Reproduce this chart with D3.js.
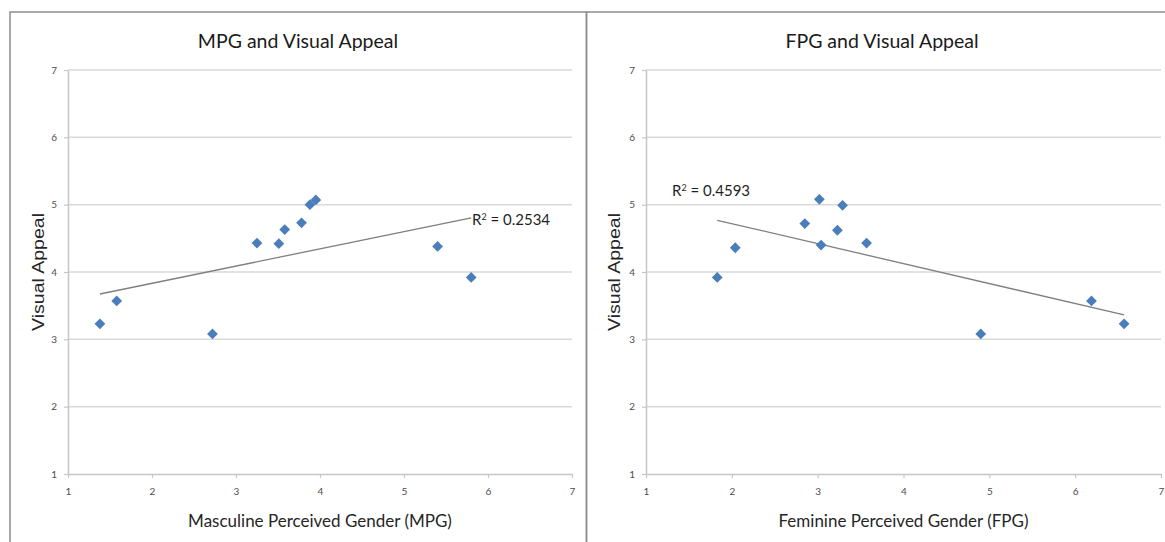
<!DOCTYPE html>
<html>
<head>
<meta charset="utf-8">
<script src="https://cdn.jsdelivr.net/npm/d3@7"></script>
<style>
  html, body { margin: 0; padding: 0; background: #fff; }
  svg { display: block; }
</style>
</head>
<body>
<svg id="chart" width="1165" height="542"></svg>
<script>
// ---- data ----
const axisTicks = [1, 2, 3, 4, 5, 6, 7];

const mpgX = [1.38, 1.58, 2.72, 3.25, 3.51, 3.58, 3.78, 3.88, 3.95, 5.40, 5.80];
const mpgY = [3.23, 3.57, 3.08, 4.43, 4.42, 4.63, 4.73, 5.00, 5.07, 4.38, 3.92];

const fpgX = [1.83, 2.04, 2.85, 3.02, 3.04, 3.23, 3.29, 3.57, 4.90, 6.19, 6.57];
const fpgY = [3.92, 4.36, 4.72, 5.08, 4.40, 4.62, 4.99, 4.43, 3.08, 3.57, 3.23];

const titles = ["MPG and Visual Appeal", "FPG and Visual Appeal"];
const xTitles = ["Masculine Perceived Gender (MPG)", "Feminine Perceived Gender (FPG)"];
const yTitle = "Visual Appeal";
const r2Labels = ["0.2534", "0.4593"];

// ---- layout ----
const svg = d3.select("#chart");
svg.append("rect").attr("width", 1165).attr("height", 542).attr("fill", "#fff");

const panels = [
  { xs: mpgX, ys: mpgY, frame: [10, 12, 586.5], plot: [68, 572, 70, 474],
    titleX: 298, r2: { x: 472, y: 225 }, yLabX: 38.5 },
  { xs: fpgX, ys: fpgY, frame: [586.5, 12, 1180], plot: [646, 1161, 70, 474],
    titleX: 882, r2: { x: 672, y: 196 }, yLabX: 614 }
];

function fit(xs, ys) {
  const n = xs.length;
  const mx = d3.mean(xs), my = d3.mean(ys);
  let sxy = 0, sxx = 0;
  for (let i = 0; i < n; i++) { sxy += (xs[i] - mx) * (ys[i] - my); sxx += (xs[i] - mx) ** 2; }
  const b = sxy / sxx, a = my - b * mx;
  return x => a + b * x;
}

// frames
const frame = svg.append("g");
panels.forEach(p => {
  const [l, t, r] = p.frame;
  frame.append("path")
    .attr("d", `M${l},560 V${t} H${r} V560`)
    .attr("fill", "none").attr("stroke", "#8c8c8c").attr("stroke-width", 1.5);
});

panels.forEach((p, i) => {
  const [x0, x1, y0, y1] = p.plot;
  const x = d3.scaleLinear().domain([1, 7]).range([x0, x1]);
  const y = d3.scaleLinear().domain([1, 7]).range([y1, y0]);
  const g = svg.append("g");

  // gridlines
  g.append("g").selectAll("line").data(axisTicks.slice(1)).join("line")
    .attr("x1", x0).attr("x2", x1)
    .attr("y1", d => y(d)).attr("y2", d => y(d))
    .attr("stroke", "#d9d9d9").attr("stroke-width", 1.5);

  // axes
  const xAxis = g.append("g").attr("transform", `translate(0,${y1})`)
    .call(d3.axisBottom(x).tickValues(axisTicks).tickFormat(d3.format("d"))
      .tickSizeInner(4).tickSizeOuter(0).tickPadding(10));
  const yAxis = g.append("g").attr("transform", `translate(${x0},0)`)
    .call(d3.axisLeft(y).tickValues(axisTicks).tickFormat(d3.format("d"))
      .tickSizeInner(4).tickSizeOuter(0).tickPadding(7));
  [xAxis, yAxis].forEach(a => {
    a.select(".domain").attr("stroke", "#c6c6c6").attr("stroke-width", 1.5);
    a.selectAll(".tick line").attr("stroke", "#c6c6c6").attr("stroke-width", 1.2);
    a.selectAll(".tick text").attr("fill", "#4d4d4d")
      .style("font-family", "Lato, 'Open Sans', sans-serif").style("font-size", "10px");
  });

  // trend line
  const f = fit(p.xs, p.ys);
  const ext = d3.extent(p.xs);
  g.append("line")
    .attr("x1", x(ext[0])).attr("y1", y(f(ext[0])))
    .attr("x2", x(ext[1])).attr("y2", y(f(ext[1])))
    .attr("stroke", "#7f7f7f").attr("stroke-width", 1.3);

  // points (diamonds)
  const pts = p.xs.map((v, k) => [v, p.ys[k]]);
  g.append("g").selectAll("path").data(pts).join("path")
    .attr("d", d3.symbol(d3.symbolSquare, 58))
    .attr("transform", d => `translate(${x(d[0])},${y(d[1])}) rotate(45)`)
    .attr("fill", "#4a7ebb");

  // R² label
  const r2 = g.append("text").attr("x", p.r2.x).attr("y", p.r2.y)
    .attr("fill", "#1f1f1f")
    .style("font-family", "Lato, 'Open Sans', sans-serif").style("font-size", "15px");
  r2.append("tspan").text("R");
  r2.append("tspan").attr("dy", -5).style("font-size", "9px").text("2");
  r2.append("tspan").attr("dy", 5).text(" = " + r2Labels[i]);

  // title
  g.append("text").attr("x", p.titleX).attr("y", 48).attr("text-anchor", "middle")
    .attr("fill", "#1a1a1a")
    .style("font-family", "Lato, 'Open Sans', sans-serif").style("font-size", "19.5px")
    .text(titles[i]);

  // x title
  g.append("text").attr("x", (x0 + x1) / 2).attr("y", 527).attr("text-anchor", "middle")
    .attr("fill", "#262626")
    .style("font-family", "Lato, 'Open Sans', sans-serif").style("font-size", "17px")
    .text(xTitles[i]);

  // y title
  g.append("text")
    .attr("transform", `translate(${p.yLabX + 5.5},272) rotate(-90)`)
    .attr("text-anchor", "middle")
    .attr("textLength", 118).attr("lengthAdjust", "spacingAndGlyphs")
    .attr("fill", "#262626")
    .style("font-family", "'Liberation Sans', Arial, sans-serif").style("font-size", "16.5px")
    .text(yTitle);
});
</script>
</body>
</html>
